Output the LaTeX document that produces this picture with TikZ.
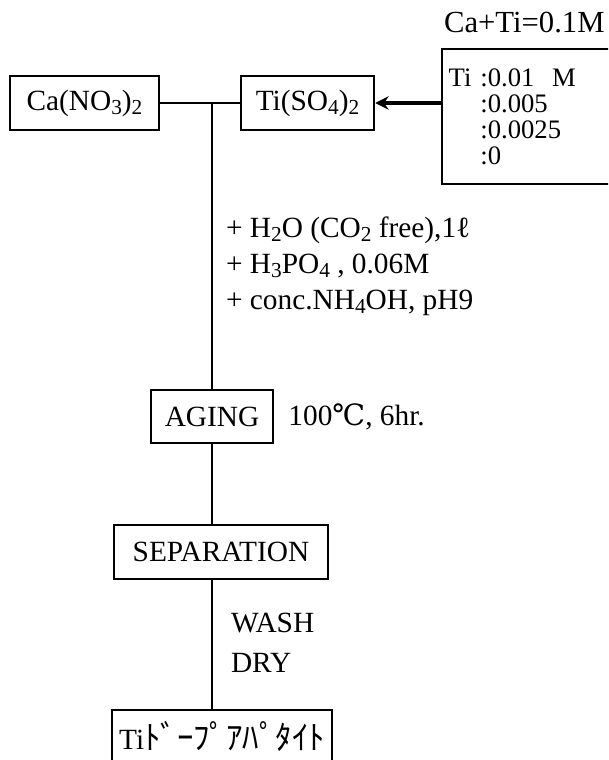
\documentclass[tikz,border=0pt]{standalone}
\usepackage{fontspec}
\setmainfont{Liberation Serif}
\newfontfamily\jpfont[Scale=1.12]{Noto Sans CJK JP}
\newfontfamily\degfont{DejaVu Serif}
\newcommand{\chemsub}[1]{\raisebox{-0.3ex}{\fontsize{16}{16}\selectfont #1}}
\usetikzlibrary{positioning,arrows.meta}

\begin{document}
\begin{tikzpicture}[
  x=0.75pt,
  y=-0.75pt,
  line width=1.6pt,
  every node/.style={
    font=\fontsize{22}{26}\selectfont
  },
  stepbox/.style={
    draw,
    minimum height=40pt,
    inner sep=0pt
  },
  note/.style={
    align=left,
    inner sep=0pt
  },
  >={Stealth[length=10pt,width=10pt]}
]
\clip (0,0) rectangle (608,760);
\node[stepbox, minimum width=112pt] (canode) at (84.5,103) {Ca(NO\chemsub{3})\chemsub{2}};
\node[stepbox, minimum width=100pt] (tinode) at (307.5,103) {Ti(SO\chemsub{4})\chemsub{2}};
\node[stepbox, anchor=north west, minimum width=140pt, minimum height=101pt,
  text width=130pt, inner xsep=3pt, align=left,
  font=\fontsize{20}{19.5}\selectfont] (conc) at (441,48)
  {Ti\ :0.01\ \ M\\\phantom{Ti\ }:0.005\\\phantom{Ti\ }:0.0025\\\phantom{Ti\ }:0};
\node[note, anchor=base west, font=\fontsize{23}{26}\selectfont] (total) at (443,32) {Ca+Ti=0.1M};
\coordinate (junction) at (212,103);
\node[note, anchor=north west, font=\fontsize{22}{27}\selectfont] (additive) at (225,216)
  {+ H\chemsub{2}O (CO\chemsub{2} free),1ℓ\\+ H\chemsub{3}PO\chemsub{4} , 0.06M\\+ conc.NH\chemsub{4}OH, pH9};
\node[stepbox, minimum width=91.5pt] (aging) at (212,416.5) {AGING};
\node[note, right=10pt of aging] (agecond) {100{\degfont ℃}, 6hr.};
\node[stepbox, minimum width=160.5pt] (sep) at (221,552) {SEPARATION};
\node[note, anchor=north west, font=\fontsize{22}{30}\selectfont] (wash) at (230,612) {WASH\\DRY};
\node[stepbox, minimum width=165pt] (product) at (222,737) {Ti{\jpfont ﾄﾞｰﾌﾟｱﾊﾟﾀｲﾄ}};

\draw (canode) -- (tinode);
\draw (junction) -- (aging);
\draw (aging.south) -- (aging.south |- sep.north);
\draw (aging.south |- sep.south) -- (aging.south |- product.north);
\draw[->, line width=3.5pt] (conc.west |- tinode.east) -- (tinode.east);
\end{tikzpicture}
\end{document}
